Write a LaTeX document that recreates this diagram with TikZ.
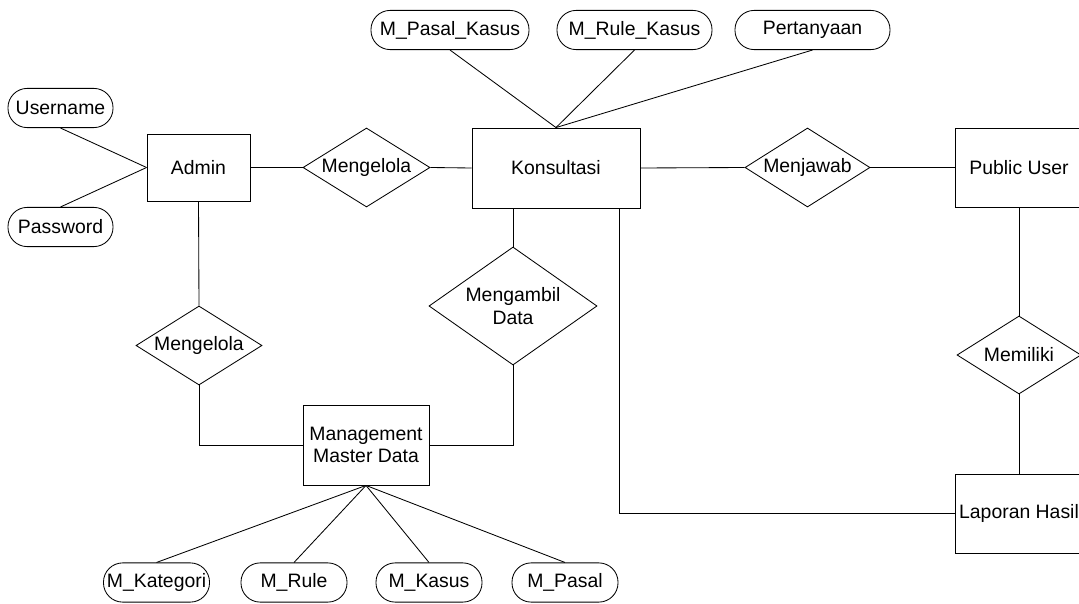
\documentclass[tikz,border=0pt]{standalone}
\usepackage{fontspec}
\setmainfont{Liberation Sans}
\usetikzlibrary{shapes.geometric}
\tikzset{
ent/.style={draw,rectangle,inner sep=2pt,align=center},
rel/.style={draw,diamond,inner sep=0pt},
attr/.style={draw,rectangle,rounded corners=0.48cm,minimum height=0.98cm,inner sep=1pt}
}
\begin{document}
\begin{tikzpicture}[x=0.025cm,y=-0.025cm,line width=0.6pt,font=\fontsize{13.8}{16}\selectfont]
\useasboundingbox (0,0) rectangle (1079,604);
\node[ent,minimum width=2.575cm,minimum height=1.675cm] (admin) at (198.5,167.5) {Admin};
\node[ent,minimum width=4.2cm,minimum height=2cm] (kons) at (556,168) {Konsultasi};
\node[ent,minimum width=3.2cm,minimum height=1.975cm] (pubuser) at (1019,167.5) {Public User};
\node[ent,minimum width=3.2cm,minimum height=1.975cm] (laporan) at (1019,513.5) {Laporan Hasil};
\node[ent,minimum width=3.15cm,minimum height=2cm] (mmd) at (366,445) {Management\\Master Data};
\node[rel,minimum width=3.175cm,minimum height=1.975cm,label=center:Mengelola] (mgl1) at (366.5,167.5) {};
\node[rel,minimum width=3.125cm,minimum height=1.975cm,label=center:Menjawab] (jawab) at (807.5,167.5) {};
\node[rel,minimum width=3.1cm,minimum height=1.95cm,label=center:Memiliki] (milik) at (1019,355) {};
\node[rel,minimum width=3.15cm,minimum height=1.975cm,label=center:Mengelola] (mgl2) at (199,345.5) {};
\node[rel,minimum width=4.2cm,minimum height=2.95cm,label={[align=center]center:Mengambil\\Data}] (ambil) at (513,306) {};
\node[attr,minimum width=2.625cm] (user) at (60.5,108) {Username};
\node[attr,minimum width=2.625cm] (pass) at (60.5,227) {Password};
\node[attr,minimum width=3.95cm] (mpk) at (450,30) {M\_Pasal\_Kasus};
\node[attr,minimum width=3.875cm] (mrk) at (634.5,30) {M\_Rule\_Kasus};
\node[attr,minimum width=3.875cm] (tanya) at (812.5,30) {Pertanyaan};
\foreach \n/\x/\t in {mkat/156.5/M\_Kategori,mrule/294/M\_Rule,mkasus/429/M\_Kasus,mpasal/565/M\_Pasal}
\node[attr,minimum width=2.65cm] (\n) at (\x,582.5) {\t};
\draw (user.south) -- (admin.west);
\draw (pass.north) -- (admin.west);
\foreach \n in {mpk,mrk,tanya}
\draw (\n.south) -- (kons.north);
\draw (admin.east) -- (mgl1.west);
\draw (mgl1.east) -- (kons.west);
\draw (kons.east) -- (jawab.west);
\draw (jawab.east) -- (pubuser.west);
\draw (pubuser.south) -- (milik.north);
\draw (milik.south) -- (laporan.north);
\draw (admin.south) -- (mgl2.north);
\draw (mgl2.south) |- (mmd.west);
\draw (mmd.east) -| (ambil.south);
\draw (ambil.north) -- (ambil.north |- kons.south);
\draw (laporan.west) -| ([xshift=-0.525cm]kons.south east);
\foreach \n in {mkat,mrule,mkasus,mpasal}
\draw (mmd.south) -- (\n.north);
\end{tikzpicture}
\end{document}
